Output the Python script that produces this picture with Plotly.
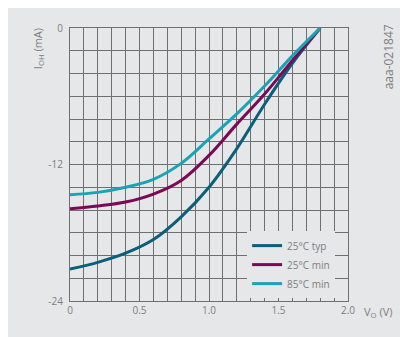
import plotly.graph_objects as go

# ---- data ----
v_grid = [0.0, 0.2, 0.4, 0.6, 0.8, 1.0, 1.2, 1.4, 1.6, 1.8]
i_typ25 = [-21.2, -20.6, -19.8, -18.6, -16.6, -14.0, -10.6, -6.7, -3.1, 0.0]
i_min25 = [-15.9, -15.65, -15.3, -14.6, -13.4, -11.2, -8.45, -5.8, -2.85, 0.0]
i_min85 = [-14.65, -14.45, -14.0, -13.3, -11.9, -9.75, -7.55, -5.1, -2.45, 0.0]

series_names = ["25°C typ", "25°C min", "85°C min"]
series_colors = ["#0b5f7a", "#7a0a55", "#1aa3b4"]

x_ticks = [round(0.1 * k, 1) for k in range(21)]
x_tick_text = {0.0: "0", 0.5: "0.5", 1.0: "1.0", 1.5: "1.5", 2.0: "2.0"}
y_ticks = list(range(-24, 1, 2))
y_tick_text = {0: "0", -12: "-12", -24: "-24"}

BG = "#e6e7e8"
GRID = "#6e6f71"
TXT = "#7d7e80"
FONT = "Open Sans"

fig = go.Figure()
for iy, name, col in zip([i_typ25, i_min25, i_min85], series_names, series_colors):
    fig.add_trace(go.Scatter(x=v_grid, y=iy, mode="lines", name=name,
                             line=dict(color=col, width=3, shape="spline", smoothing=1.0)))

fig.update_layout(
    width=400, height=329,
    paper_bgcolor=BG, plot_bgcolor=BG,
    margin=dict(l=62, r=60, t=15, b=36),
    font=dict(family=FONT, color=TXT, size=10),
    showlegend=True,
    legend=dict(x=0.637, y=0.0106, xanchor="left", yanchor="bottom",
                bgcolor=BG, borderwidth=0, itemwidth=30,
                font=dict(size=10, color=TXT, family=FONT),
                tracegroupgap=0),
)
fig.update_xaxes(range=[0, 2.0], tickvals=x_ticks,
                 ticktext=[x_tick_text.get(t, "") for t in x_ticks],
                 showgrid=True, gridcolor=GRID, gridwidth=1,
                 showline=True, linecolor=GRID, linewidth=1, mirror=True,
                 zeroline=False, ticks="", tickfont=dict(size=10, color=TXT),
                 fixedrange=True)
fig.update_yaxes(range=[-24, 0], tickvals=y_ticks,
                 ticktext=[y_tick_text.get(t, "") for t in y_ticks],
                 showgrid=True, gridcolor=GRID, gridwidth=1,
                 showline=True, linecolor=GRID, linewidth=1, mirror=True,
                 zeroline=False, ticks="", tickfont=dict(size=10, color=TXT),
                 ticklabelstandoff=4, fixedrange=True)

# axis titles and id
fig.add_annotation(text="I<sub>OH</sub> (mA)", textangle=-90,
                   xref="paper", yref="paper", x=-0.115, y=1.005,
                   xanchor="center", yanchor="top", showarrow=False,
                   font=dict(size=11, color=TXT, family=FONT))
fig.add_annotation(text="V<sub>O</sub> (V)", xref="paper", yref="paper",
                   x=1.05, y=-0.04, xanchor="left", yanchor="middle", showarrow=False,
                   font=dict(size=11, color=TXT, family=FONT))
fig.add_annotation(text="aaa-021847", textangle=-90, xref="paper", yref="paper",
                   x=1.147, y=1.022, xanchor="center", yanchor="top", showarrow=False,
                   font=dict(size=12, color=TXT, family=FONT))

fig.write_html("out.html")
